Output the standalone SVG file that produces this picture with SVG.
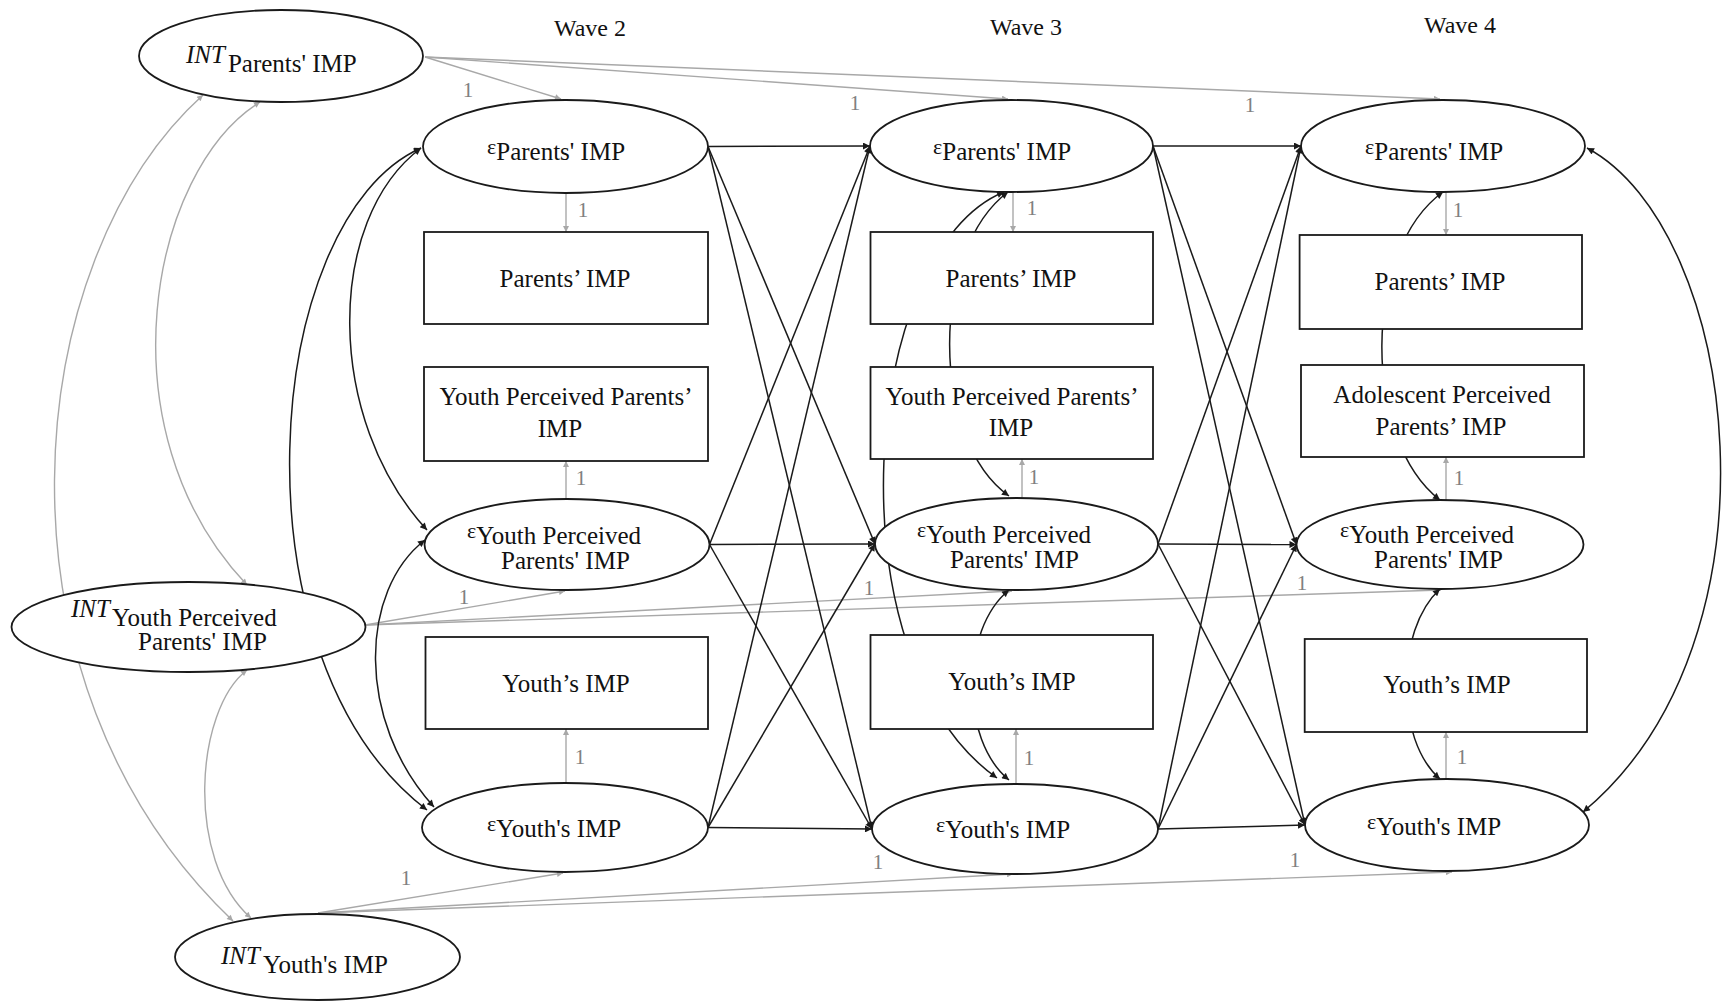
<svg xmlns="http://www.w3.org/2000/svg" width="1725" height="1001" viewBox="0 0 1725 1001">
  <style>
    .node ellipse, .node rect { fill: #ffffff; stroke: #1a1a1a; stroke-width: 1.8; }
    .t { font-family: "Liberation Serif", "Times New Roman", serif; font-size: 25px; fill: #111111; }
    .c { text-anchor: middle; }
    .eps { font-size: 22px; }
    .int { font-style: italic; font-size: 25px; }
    .wave { font-family: "Liberation Serif", "Times New Roman", serif; font-size: 24px; fill: #111111; text-anchor: middle; }
    .one { font-family: "Liberation Serif", "Times New Roman", serif; font-size: 21px; fill: #808080; text-anchor: middle; }
    .blk { stroke: #1a1a1a; stroke-width: 1.5; fill: none; }
    .blk.arrow { marker-end: url(#ah); }
    .blk.both { marker-start: url(#ah); marker-end: url(#ah); }
    .gry { stroke: #a8a8a8; stroke-width: 1.4; fill: none; }
    .gry.arrow { marker-end: url(#ahg); }
    .gry.both { marker-start: url(#ahg); marker-end: url(#ahg); }
  </style>
  <defs>
    <marker id="ah" viewBox="0 0 10 10" refX="10" refY="5" markerWidth="9" markerHeight="7" markerUnits="userSpaceOnUse" orient="auto-start-reverse">
      <path d="M0,0 L10,5 L0,10 z" fill="#1a1a1a"/>
    </marker>
    <marker id="ahg" viewBox="0 0 10 10" refX="10" refY="5" markerWidth="8" markerHeight="6" markerUnits="userSpaceOnUse" orient="auto-start-reverse">
      <path d="M0,0 L10,5 L0,10 z" fill="#a8a8a8"/>
    </marker>
  </defs>
  <rect width="1725" height="1001" fill="#ffffff"/>

  <!-- wave headings -->
  <text class="wave" x="590" y="36">Wave 2</text>
  <text class="wave" x="1026" y="35">Wave 3</text>
  <text class="wave" x="1460" y="33">Wave 4</text>

  <g id="connectors">
    <!-- intercept loadings (fixed to 1) -->
    <path class="gry arrow" d="M425,57 L561,99"/>
    <path class="gry arrow" d="M425,57 L1008,99"/>
    <path class="gry arrow" d="M425,57 L1440,99"/>
    <path class="gry arrow" d="M365,625 L565,591"/>
    <path class="gry arrow" d="M365,625 L1012,591"/>
    <path class="gry arrow" d="M365,625 L1441,590"/>
    <path class="gry arrow" d="M318,913 L563,873"/>
    <path class="gry arrow" d="M318,913 L1013,874"/>
    <path class="gry arrow" d="M318,913 L1452,872"/>

    <!-- intercept covariances -->
    <path class="gry both" d="M203,95 C 20,260 -20,680 233,921"/>
    <path class="gry both" d="M260,102 C 150,170 100,430 247,585"/>
    <path class="gry both" d="M247,670 C 195,710 185,860 251,918"/>

    <!-- residual to observed loadings -->
    <path class="gry arrow" d="M566,193 L566,232"/>
    <path class="gry arrow" d="M566,499 L566,461"/>
    <path class="gry arrow" d="M566,783 L566,729"/>
    <path class="gry arrow" d="M1013,192 L1013,232"/>
    <path class="gry arrow" d="M1022,498 L1022,459"/>
    <path class="gry arrow" d="M1016,784 L1016,729"/>
    <path class="gry arrow" d="M1446,192 L1446,235"/>
    <path class="gry arrow" d="M1446,500 L1446,457"/>
    <path class="gry arrow" d="M1446,779 L1446,732"/>

    <!-- wave 2 residual covariances -->
    <path class="blk both" d="M421,148 C 260,220 230,660 427,810"/>
    <path class="blk both" d="M421,148 C 325,220 325,420 427,530"/>
    <path class="blk both" d="M425,540 C 360,590 355,720 434,807"/>

    <!-- wave 3 residual covariances -->
    <path class="blk both" d="M1004,192 C 860,250 830,660 997,778"/>
    <path class="blk both" d="M1008,192 C 930,250 930,440 1009,496"/>
    <path class="blk both" d="M1009,590 C 960,630 960,740 1009,780"/>

    <!-- wave 4 residual covariances -->
    <path class="blk both" d="M1443,192 C 1362,250 1362,440 1440,500"/>
    <path class="blk both" d="M1440,589 C 1395,630 1395,740 1440,779"/>
    <path class="blk both" d="M1587,148 C 1740,230 1790,640 1583,812"/>

    <!-- autoregressive and cross-lagged paths, wave 2 to wave 3 -->
    <path class="blk arrow" d="M708,146.5 L870,146"/>
    <path class="blk arrow" d="M708,146.5 L875,544"/>
    <path class="blk arrow" d="M708,146.5 L872,829"/>
    <path class="blk arrow" d="M709.5,544.5 L870,146"/>
    <path class="blk arrow" d="M709.5,544.5 L875,544"/>
    <path class="blk arrow" d="M709.5,544.5 L872,829"/>
    <path class="blk arrow" d="M708,827.5 L870,146"/>
    <path class="blk arrow" d="M708,827.5 L875,544"/>
    <path class="blk arrow" d="M708,827.5 L872,829"/>

    <!-- autoregressive and cross-lagged paths, wave 3 to wave 4 -->
    <path class="blk arrow" d="M1153,146 L1301,146"/>
    <path class="blk arrow" d="M1153,146 L1296.5,544.5"/>
    <path class="blk arrow" d="M1153,146 L1305,825"/>
    <path class="blk arrow" d="M1158,544 L1301,146"/>
    <path class="blk arrow" d="M1158,544 L1296.5,544.5"/>
    <path class="blk arrow" d="M1158,544 L1305,825"/>
    <path class="blk arrow" d="M1158,829 L1301,146"/>
    <path class="blk arrow" d="M1158,829 L1296.5,544.5"/>
    <path class="blk arrow" d="M1158,829 L1305,825"/>

    <!-- fixed loading values -->
    <text class="one" x="468" y="97">1</text>
    <text class="one" x="855" y="110">1</text>
    <text class="one" x="1250" y="112">1</text>
    <text class="one" x="583" y="217">1</text>
    <text class="one" x="1032" y="215">1</text>
    <text class="one" x="1458" y="217">1</text>
    <text class="one" x="581" y="485">1</text>
    <text class="one" x="1034" y="484">1</text>
    <text class="one" x="1459" y="485">1</text>
    <text class="one" x="580" y="764">1</text>
    <text class="one" x="1029" y="765">1</text>
    <text class="one" x="1462" y="764">1</text>
    <text class="one" x="464" y="604">1</text>
    <text class="one" x="869" y="595">1</text>
    <text class="one" x="1302" y="590">1</text>
    <text class="one" x="406" y="885">1</text>
    <text class="one" x="878" y="869">1</text>
    <text class="one" x="1295" y="867">1</text>
  </g>

  <!-- random intercepts -->
  <g id="int-parents" class="node">
    <ellipse cx="281" cy="56" rx="142" ry="46"/>
    <text class="t" x="186" y="72"><tspan class="int" dy="-9">INT</tspan><tspan dx="3" dy="9">Parents' IMP</tspan></text>
  </g>
  <g id="int-youth-perceived" class="node">
    <ellipse cx="188.5" cy="627" rx="177" ry="45"/>
    <text class="t" x="71" y="626"><tspan class="int" dy="-9">INT</tspan><tspan dx="2" dy="9">Youth Perceived</tspan></text>
    <text class="t" x="138" y="650">Parents' IMP</text>
  </g>
  <g id="int-youth" class="node">
    <ellipse cx="317.5" cy="957" rx="142.5" ry="43"/>
    <text class="t" x="221" y="973"><tspan class="int" dy="-9">INT</tspan><tspan dx="3" dy="9">Youth's IMP</tspan></text>
  </g>

  <!-- wave 2 -->
  <g id="w2-res-parents" class="node">
    <ellipse cx="565.5" cy="146.5" rx="142.5" ry="46.5"/>
    <text class="t" x="487" y="160"><tspan class="eps" dy="-6">ε</tspan><tspan dy="6">Parents' IMP</tspan></text>
  </g>
  <g id="w2-obs-parents" class="node">
    <rect x="424" y="232" width="284" height="92"/>
    <text class="t c" x="565" y="287">Parents’ IMP</text>
  </g>
  <g id="w2-obs-youth-perceived" class="node">
    <rect x="424" y="367" width="284" height="94"/>
    <text class="t c" x="566" y="405">Youth Perceived Parents’</text>
    <text class="t c" x="560" y="437">IMP</text>
  </g>
  <g id="w2-res-youth-perceived" class="node">
    <ellipse cx="567" cy="544.5" rx="142.5" ry="45.5"/>
    <text class="t" x="467" y="544"><tspan class="eps" dy="-6">ε</tspan><tspan dy="6">Youth Perceived</tspan></text>
    <text class="t" x="501" y="569">Parents' IMP</text>
  </g>
  <g id="w2-obs-youth" class="node">
    <rect x="425.5" y="637" width="282.5" height="92"/>
    <text class="t c" x="566" y="692">Youth’s IMP</text>
  </g>
  <g id="w2-res-youth" class="node">
    <ellipse cx="565" cy="827.5" rx="143" ry="44.5"/>
    <text class="t" x="487" y="837"><tspan class="eps" dy="-6">ε</tspan><tspan dy="6">Youth's IMP</tspan></text>
  </g>

  <!-- wave 3 -->
  <g id="w3-res-parents" class="node">
    <ellipse cx="1011.5" cy="146" rx="141.5" ry="46"/>
    <text class="t" x="933" y="160"><tspan class="eps" dy="-6">ε</tspan><tspan dy="6">Parents' IMP</tspan></text>
  </g>
  <g id="w3-obs-parents" class="node">
    <rect x="870.5" y="232" width="282.5" height="92"/>
    <text class="t c" x="1011" y="287">Parents’ IMP</text>
  </g>
  <g id="w3-obs-youth-perceived" class="node">
    <rect x="870.5" y="367" width="282.5" height="92"/>
    <text class="t c" x="1012" y="405">Youth Perceived Parents’</text>
    <text class="t c" x="1011" y="436">IMP</text>
  </g>
  <g id="w3-res-youth-perceived" class="node">
    <ellipse cx="1016.5" cy="544" rx="141.5" ry="46"/>
    <text class="t" x="917" y="543"><tspan class="eps" dy="-6">ε</tspan><tspan dy="6">Youth Perceived</tspan></text>
    <text class="t" x="950" y="568">Parents' IMP</text>
  </g>
  <g id="w3-obs-youth" class="node">
    <rect x="870.5" y="635" width="282.5" height="94"/>
    <text class="t c" x="1012" y="690">Youth’s IMP</text>
  </g>
  <g id="w3-res-youth" class="node">
    <ellipse cx="1015" cy="829" rx="143" ry="45"/>
    <text class="t" x="936" y="838"><tspan class="eps" dy="-6">ε</tspan><tspan dy="6">Youth's IMP</tspan></text>
  </g>

  <!-- wave 4 -->
  <g id="w4-res-parents" class="node">
    <ellipse cx="1443" cy="146" rx="142" ry="46"/>
    <text class="t" x="1365" y="160"><tspan class="eps" dy="-6">ε</tspan><tspan dy="6">Parents' IMP</tspan></text>
  </g>
  <g id="w4-obs-parents" class="node">
    <rect x="1299.6" y="235" width="282.4" height="94"/>
    <text class="t c" x="1440" y="290">Parents’ IMP</text>
  </g>
  <g id="w4-obs-adolescent-perceived" class="node">
    <rect x="1301" y="365" width="283" height="92"/>
    <text class="t c" x="1442" y="403">Adolescent Perceived</text>
    <text class="t c" x="1441" y="435">Parents’ IMP</text>
  </g>
  <g id="w4-res-youth-perceived" class="node">
    <ellipse cx="1440" cy="544.5" rx="143.5" ry="44.5"/>
    <text class="t" x="1340" y="543"><tspan class="eps" dy="-6">ε</tspan><tspan dy="6">Youth Perceived</tspan></text>
    <text class="t" x="1374" y="568">Parents' IMP</text>
  </g>
  <g id="w4-obs-youth" class="node">
    <rect x="1304.7" y="639" width="282.3" height="93"/>
    <text class="t c" x="1447" y="693">Youth’s IMP</text>
  </g>
  <g id="w4-res-youth" class="node">
    <ellipse cx="1447" cy="825" rx="142" ry="46"/>
    <text class="t" x="1367" y="835"><tspan class="eps" dy="-6">ε</tspan><tspan dy="6">Youth's IMP</tspan></text>
  </g>
</svg>
